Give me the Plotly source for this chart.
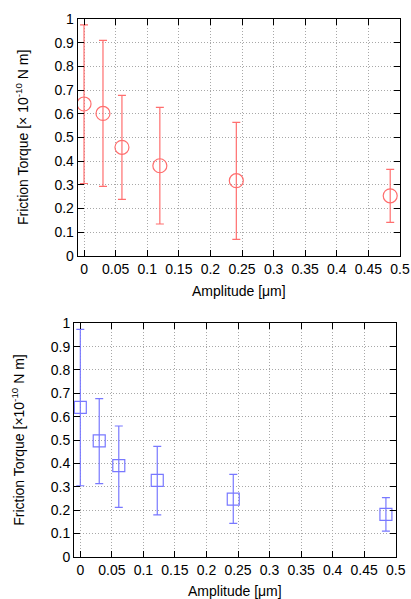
import plotly.graph_objects as go

# Data
amp_top = [0.0, 0.030, 0.060, 0.120, 0.241, 0.4845]
torque_top = [0.641, 0.601, 0.458, 0.380, 0.317, 0.253]
err_up_top = [0.975, 0.910, 0.677, 0.627, 0.563, 0.365]
err_lo_top = [0.305, 0.293, 0.238, 0.134, 0.069, 0.141]

amp_bot = [0.0, 0.030, 0.061, 0.122, 0.2425, 0.4845]
torque_bot = [0.640, 0.496, 0.390, 0.327, 0.247, 0.181]
err_up_bot = [0.974, 0.677, 0.560, 0.473, 0.353, 0.253]
err_lo_bot = [0.304, 0.313, 0.211, 0.179, 0.143, 0.110]

x_ticks = [0, 0.05, 0.1, 0.15, 0.2, 0.25, 0.3, 0.35, 0.4, 0.45, 0.5]
x_ticklabels = ["0", "0.05", "0.1", "0.15", "0.2", "0.25", "0.3", "0.35", "0.4", "0.45", "0.5"]
y_ticks = [0, 0.1, 0.2, 0.3, 0.4, 0.5, 0.6, 0.7, 0.8, 0.9, 1]
y_ticklabels = ["0", "0.1", "0.2", "0.3", "0.4", "0.5", "0.6", "0.7", "0.8", "0.9", "1"]

RED = "#ff6e6e"
BLUE = "#7878ff"
FONT = "Liberation Sans, Arial, sans-serif"

fig = go.Figure()

def add_series(x, y, up, lo, color, symbol, size, xa, ya):
    fig.add_trace(go.Scatter(
        x=x, y=y, mode="markers", xaxis=xa, yaxis=ya,
        marker=dict(symbol=symbol, size=size, color=color,
                    line=dict(color=color, width=1.2)),
        error_y=dict(type="data", symmetric=False,
                     array=[u - v for u, v in zip(up, y)],
                     arrayminus=[v - l for v, l in zip(y, lo)],
                     color=color, thickness=1.2, width=4),
        showlegend=False,
    ))

add_series(amp_top, torque_top, err_up_top, err_lo_top, RED, "circle-open", 14, "x", "y")
add_series(amp_bot, torque_bot, err_up_bot, err_lo_bot, BLUE, "square-open", 12, "x2", "y2")

W, H = 411, 599

def xaxis(domain, anchor):
    return dict(domain=domain, anchor=anchor, range=[-0.01, 0.5],
                tickvals=x_ticks, ticktext=x_ticklabels,
                ticks="inside", ticklen=6, tickcolor="black", tickwidth=1,
                showline=True, linecolor="black", linewidth=1, mirror="ticks",
                showgrid=True, gridcolor="#a8a8a8", griddash="1px,2px", gridwidth=1,
                zeroline=False, automargin=False,
                tickfont=dict(family=FONT, size=14, color="black"),
                title=dict(text="Amplitude [μm]", standoff=10,
                           font=dict(family=FONT, size=14, color="black")))

def yaxis(domain, anchor, title):
    return dict(domain=domain, anchor=anchor, range=[0, 1],
                tickvals=y_ticks, ticktext=y_ticklabels,
                ticks="inside", ticklen=6, tickcolor="black", tickwidth=1,
                showline=True, linecolor="black", linewidth=1, mirror="ticks",
                showgrid=True, gridcolor="#a8a8a8", griddash="1px,2px", gridwidth=1,
                zeroline=False, automargin=False,
                tickfont=dict(family=FONT, size=14, color="black"),
                title=dict(text=title, standoff=22,
                           font=dict(family=FONT, size=14, color="black")))

fig.update_layout(
    width=W, height=H,
    margin=dict(l=0, r=0, t=0, b=0),
    paper_bgcolor="white", plot_bgcolor="white",
    xaxis=xaxis([77.7 / W, 400 / W], "y"),
    yaxis=yaxis([1 - 255.7 / H, 1 - 19 / H], "x", "Friction Torque [× 10<sup>-10</sup> N m]"),
    xaxis2=xaxis([74 / W, 395.7 / W], "y2"),
    yaxis2=yaxis([1 - 556.7 / H, 1 - 323.3 / H], "x2", "Friction Torque [×10<sup>-10</sup> N m]"),
)

fig.write_html("out.html", config={"displayModeBar": False},
               post_script="document.body.style.margin='0';document.body.style.overflow='hidden';")
